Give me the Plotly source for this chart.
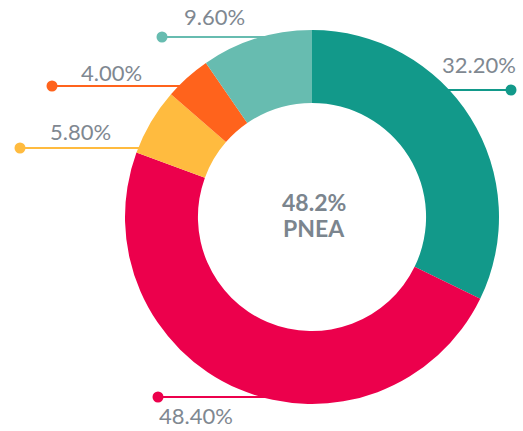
import math
import plotly.graph_objects as go

W, H = 523, 431

# slice values, clockwise from 12 o'clock
shares = [32.2, 48.4, 5.8, 4.0, 9.6]
colors = ['#12998a', '#ec004c', '#ffbb3f', '#ff631c', '#67bcb0']
center_value = '48.2%'
center_name = 'PNEA'

# layout of the pie (pixels)
cx, cy, R = 312, 217, 187
hole = 0.61

# leader layout per slice: row of the line, x of the dot, side, text anchor
leader_y = [90, 397, 148, 86, 37]
dot_x = [511, 158, 20, 52, 162]
side = [1, -1, -1, -1, -1]
text_xy = [(479, 64), (196, 415), (80, 131), (111, 72), (214, 16)]

fig = go.Figure()

for v, c, ly, dx, s, (tx, ty) in zip(shares, colors, leader_y, dot_x, side, text_xy):
    edge = cx + s * math.sqrt(max(R**2 - (ly - cy)**2, 0)) - s * 6
    fig.add_trace(go.Scatter(x=[dx, edge], y=[ly, ly], mode='lines',
                             line=dict(color=c, width=2), hoverinfo='skip'))
    fig.add_trace(go.Scatter(x=[dx], y=[ly], mode='markers',
                             marker=dict(color=c, size=11), hoverinfo='skip'))
    fig.add_annotation(x=tx, y=ty, xref='x', yref='y', text=f'{v:.2f}%',
                       showarrow=False, font=dict(family='Lato', size=22, color='#7f8891'))

fig.add_trace(go.Pie(
    values=shares, marker=dict(colors=colors, line=dict(width=0)),
    sort=False, direction='clockwise', hole=hole, textinfo='none',
    hoverinfo='skip',
    domain=dict(x=[(cx - R) / W, (cx + R) / W], y=[1 - (cy + R) / H, 1 - (cy - R) / H]),
))

fig.add_annotation(x=314, y=202, xref='x', yref='y', text=f'<b>{center_value}</b>',
                   showarrow=False, font=dict(family='Lato', size=23, color='#7b858e'))
fig.add_annotation(x=314, y=228, xref='x', yref='y', text=f'<b>{center_name}</b>',
                   showarrow=False, font=dict(family='Lato', size=23, color='#7b858e'))

fig.update_layout(
    width=W, height=H, margin=dict(l=0, r=0, t=0, b=0),
    paper_bgcolor='white', plot_bgcolor='white', showlegend=False,
    xaxis=dict(range=[0, W], visible=False, domain=[0, 1], fixedrange=True),
    yaxis=dict(range=[H, 0], visible=False, domain=[0, 1], fixedrange=True),
)

fig.write_html('out.html', config={'displayModeBar': False},
               post_script="document.body.style.margin='0';")
